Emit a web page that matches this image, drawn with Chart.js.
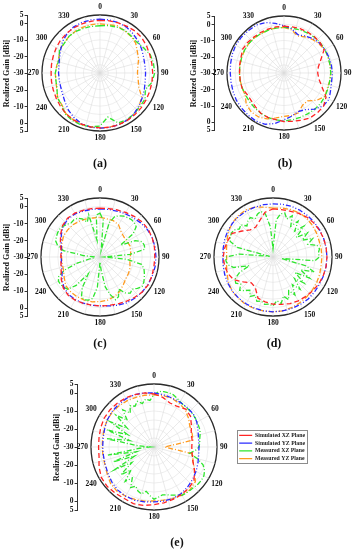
<!DOCTYPE html>
<html>
<head>
<meta charset="utf-8">
<script src="https://cdn.jsdelivr.net/npm/chart.js@4.4.0/dist/chart.umd.min.js"></script>
<style>
  html, body { margin: 0; padding: 0; background: #fff; }
  #page { position: relative; width: 360px; height: 550px; overflow: hidden; }
  .box { position: absolute; left: 0; top: 0; }
  .box canvas { display: block; }
  .cap { position: absolute; transform: translate(-50%, -50%); font: bold 12px "Liberation Serif", serif; color: #111; }
</style>
</head>
<body>
<div id="page">
  <div class="box" id="ax-a"><canvas></canvas></div>
  <div class="box" id="ax-b"><canvas></canvas></div>
  <div class="box" id="ax-c"><canvas></canvas></div>
  <div class="box" id="ax-e"><canvas></canvas></div>
  <div class="box" id="pl-a"><canvas></canvas></div>
  <div class="box" id="pl-b"><canvas></canvas></div>
  <div class="box" id="pl-c"><canvas></canvas></div>
  <div class="box" id="pl-d"><canvas></canvas></div>
  <div class="box" id="pl-e"><canvas></canvas></div>
  <div class="cap" style="left:100px;top:163px">(a)</div>
  <div class="cap" style="left:285px;top:163px">(b)</div>
  <div class="cap" style="left:100px;top:343px">(c)</div>
  <div class="cap" style="left:274px;top:343px">(d)</div>
  <div class="cap" style="left:177px;top:542px">(e)</div>
</div>
<script>
// --- DATA ---
const angleLabels = ['0','5','10','15','20','25','30','35','40','45','50','55','60','65','70','75','80','85',
  '90','95','100','105','110','115','120','125','130','135','140','145','150','155','160','165','170','175',
  '180','185','190','195','200','205','210','215','220','225','230','235','240','245','250','255','260','265',
  '270','275','280','285','290','295','300','305','310','315','320','325','330','335','340','345','350','355'];
const shownAngles = ['0','30','60','90','120','150','180','210','240','270','300','330'];
const gainTicks = [5, 0, -10, -20, -30, -20, -10, 0, 5];
const seriesNames = ['Simulated XZ Plane', 'Simulated YZ Plane', 'Measured XZ Plane', 'Measured YZ Plane'];

// gain in dBi, 36 values = every 10 deg, 72 values = every 5 deg
const simXZ_a = [1.8,2,2.2,2.5,3,3,2.5,2,1.8,1.8, 1.8,2,2.2,2.5,2.8,3,3.2,3.2,3.1,3, 2.8,2.5,2,1.2,0.5,0,-0.3,-0.5,-0.3,0, 0.5,1,1.3,1.5,1.6,1.7];
const simYZ_a = [2.5,2.5,2.3,2,1,0,-1,-2,-2.5,-2.5, -2.3,-1.5,-0.5,0.8,2,2.8,3.2,3.3,3.3,3.2, 2.5,1.2,-0.5,-2.5,-4,-4.8,-5,-5,-4.8,-4, -2.5,-0.5,1,2,2.4,2.5];
const measXZ_a = [-1.5,-1,-0.5,-0.2,-0.8,-1,0.4,2.3,2.8,3, 1.9,-0.9,1.4,1.5,2,2.6,2,-3,2,3, 3.3,3.2,2.5,0.2,-0.3,-2.4,-3,-3,-3.8,-3.8, -1.7,-2,-1,-1,-1.3,-1.4];
const measYZ_a = [-0.3,-0.5,0.4,-0.6,-1,-1.9,-4,-5.2,-6.8,-7.4, -6.6,-5.1,-0.9,0.9,2.2,3.1,3,3.2,3.3,3, 3,2.5,2,0,-0.5,-2.2,-3,-3,-3.5,-3.5, -2,-1.8,-1,-0.7,-0.5,-0.3];

const simXZ_b = [-1.3,-1.2,-1,-1,-0.9,-1,-1.6,-5.9,-8.6,-9.3, -8.2,-5.2,-0.2,1.7,1.9,1.9,0.9,0.1,-0.2,-1, -1,-1.5,-2.8,-3.7,-3.8,-2.6,-2.7,-2.7,-2.3,-1.9, -0.7,-0.8,-1.2,-1.3,-1.3,-1.3];
const simYZ_b = [-1,-2.5,-5,-3.8,-2.3,-1.5,-1,-0.8,-0.5,-0.3, -0.3,0.5,2,1.5,-1,-4,-4.8,-3,-1.3,1.5, 3.5,4.2,4,3.8,3.7,3.3,3,3,3.3,3.8, 4.2,4.2,4,4,3,1];
const measXZ_b = [-2,-2,-1.8,-1.5,-1.2,-1,-1,-1.2,-1.3,-1.3, -1.5,-1.3,-1,-0.8,-0.8,-1,-1,-0.8,-0.6,-0.8, -1,-1.5,-2,-2.5,-2.8,-2.8,-2.7,-2.6,-2.5,-2.3, -2,-1.8,-1.8,-2,-2,-2];
const measYZ_b = [-2,-3.1,-5.8,-4.4,-3,-2,-1.2,-1.2,-1.3,-1.3, -1.5,-1.8,-1,-3.9,-7.6,-7.2,-4,-3.5,-3.4,-2, 0,1.2,1.2,0.2,-2.5,-2.7,-2.7,-2.7,-2.5,-2.3, -2,-1.8,-1.8,-2,-1.8,-1.8];

const simXZ_c = [-1,-0.8,-0.3,0.5,1.5,2.5,3,3,2.8,2.5, 2.5,2.8,3,2.5,1.5,0.5,-0.3,-0.8,-1,-1, -0.8,-0.5,-0.5,-1.5,-3.5,-5.5,-6.5,-6.8,-6.5,-5, -3,-1,0,0,-0.5,-0.8];
const simYZ_c = [-1.5,-1.3,-1,-0.3,0.5,1.5,2.5,3,3.2,3.2, 3.2,3,2.8,2.5,2,1.5,0.5,-0.5,-1,-1, -0.8,-0.8,-1,-2,-4,-6,-6.8,-7,-6.8,-5.5, -3.5,-1.5,-0.5,-0.5,-1,-1.3];
const measXZ_c = [-4,-8,-26,-9,-4.5,-3, -2,-1.5,-1,-1.2,-2,-6, -16,-7,-3.5,-2.8,-3,-12,
  -27,-14,-5,-3,-2,-1, 0,0.5,-1,-3,-2,-4, -8,-4,-3,-7,-12,-22,
  -27,-12,-5,-3.5,-3,-4, -9,-18,-8,-3,-2,-1.5, -1.5,-3,-8,-16,-24,-27,
  -27,-20,-8,-4,-2,-1.5, -1,-1,-1.5,-2.5,-3.5,-3, -3.5,-5,-8,-4,-20,-5];
const measYZ_c = [-6.5,-7,-7,-8,-10.5,-11.5,-11.5,-11,-11.5,-12, -12,-11,-10.5,-10,-8.5,-6.5,-5,-4,-3.5,-3, -2.8,-2.8,-3,-3.5,-5.5,-7,-7.2,-7.2,-7,-6, -5,-5,-5,-5.5,-6,-6.5];

const simXZ_d = [-1.5,-1.5,-1,0,1,1.5,1.8,2,2,2, 2,1.8,1.5,1,0.5,0,-0.5,-1.5,-2,-3, -4,-9,-10,-7,-3,-1.5,-0.8,-0.5,-0.8,-1.5, -2,-6,-9,-9.5,-7,-3];
const simYZ_d = [1.5,1.8,2,2,2,2,2,2,2,2, 2,2,2,2.2,2.5,2.5,2.5,2.5,2.5,2.5, 2.3,2,1.8,1.5,1,0.5,0,-0.3,0,0.5, 1,1.3,1.5,1.5,1.5,1.5];
const measXZ_d = [-25,-8,-4,-3,-6,-3, -9,-4,-10,-4,-12,-5, -10,-4,-8,-3,-2,-3,
  -2.5,-5,-25,-10,-4,-12, -5,-14,-6,-12,-5,-10, -4,-8,-3,-6,-2,-4,
  -1,-2,-1.5,-3,-2,-5, -3,-6,-4,-2,-5,-3, -4,-8,-15,-6,-3,-2,
  -2,-10,-28,-8,-3,-2, -1.5,-2,-4,-3,-6,-4, -3,-5,-3,-2,-4,-12];
const measYZ_d = [-1,-0.5,0,0.5,0.5,0,-0.5,-1,-1,-1, -1,-0.5,0,0.5,1,1.5,2,2.5,2.5,2.5, 2.5,2.5,2,1.5,0.5,-1,-2,-2.5,-2,-1, 0.5,1.5,2,2.2,1.5,0];

const simXZ_e = [-0.5,-2,-4,-4,-2.5,-3.5,-6,-8,-8.5,-9, -8.5,-7,-4,-1,0,0.5,1,1.5,2,3, 3.5,3,3.5,4,3.8,2.5,1,0.8,1,1.5, 2,2,1.8,1.5,1,0.5];
const simYZ_e = [0,-0.5,-1,-1.2,-1.3,-1.5,-2.5,-4,-4.8,-5, -4.8,-4,-3,-2,-1,0,0.5,0.5,0.5,1, 1.5,1.5,1.3,0.5,-0.5,-1.2,-1.5,-1.5,-1.3,-0.8, 0,0.5,0.8,1,1,0.5];
const measXZ_e = [-1,1,1.2,1.2,1,0, -1,-1.5,-1.6,-1.7,-1.8,-2, -2.3,-2.6,-2.8,-3.5,-4.2,-4.5,
  -5,-7,-10,-5,-1,1, 2,2.2,2,1.5,1.3,1.2, 1,-0.5,-1.5,-2.5,-3,-2,
  -1,-3,-5,-3,-4,-6, -4,-9,-5,-12,-6,-15, -5,-18,-6,-20,-4,-22,
  -28,-20,-3,-16,-2,-14, -2,-12,-2.5,-9,-3,-7, -3.5,-5,-3,-5,-3,-4];
const measYZ_e = [-1,-1,-1.2,-2,-3,-5,-7,-7.5,-8,-24, -8,-7,-4,0,1,1,0.5,0,0,0.5, 1,1.5,2,1.5,0,-1,-1.2,-1.2,-1,-0.5, 0,0.3,0,-0.3,-0.6,-0.8];

// --- STYLE & LAYOUT ---
const SERIF = '"Liberation Serif", "Times New Roman", serif';
const seriesColors = ['#ff2424', '#2a2aff', '#2ee62e', '#ff9a1f'];
const seriesDash = [[5, 3], [5, 2, 1, 2, 1, 2], [5, 2, 1, 2], [5, 2, 1, 2]];

const panels = [
  { key: 'a', cx: 100, cy: 73,  R: 58, axisX: 27,  series: [simXZ_a, simYZ_a, measXZ_a, measYZ_a] },
  { key: 'b', cx: 284, cy: 73,  R: 57, axisX: 214, series: [simXZ_b, simYZ_b, measXZ_b, measYZ_b] },
  { key: 'c', cx: 100, cy: 257, R: 59, axisX: 27,  series: [simXZ_c, simYZ_c, measXZ_c, measYZ_c] },
  { key: 'd', cx: 273, cy: 257, R: 59,             series: [simXZ_d, simYZ_d, measXZ_d, measYZ_d] },
  { key: 'e', cx: 154, cy: 447, R: 63, axisX: 77, legendLeft: 237, series: [simXZ_e, simYZ_e, measXZ_e, measYZ_e] }
];

Chart.defaults.font.family = SERIF;
Chart.defaults.font.weight = 'bold';
Chart.defaults.color = '#111';

// 10-degree series sit on the 5-degree grid with gaps that the line spans
function onGrid(values) {
  const step = angleLabels.length / values.length;
  const out = [];
  values.forEach(v => { out.push(v); for (let k = 1; k < step; k++) out.push(null); });
  return out;
}

function legendFrameRect(chart) {
  const lg = chart.legend;
  if (!lg || !lg.options.display || !lg.legendHitBoxes || !lg.legendHitBoxes.length) return null;
  const hb = lg.legendHitBoxes;
  return {
    x0: Math.min(...hb.map(b => b.left)) - 2,
    y0: Math.min(...hb.map(b => b.top)) - 2,
    x1: Math.max(...hb.map(b => b.left + b.width)) + 2,
    y1: Math.max(...hb.map(b => b.top + b.height)) + 2
  };
}

const legendFrame = {
  id: 'legendFrame',
  afterDraw(chart) {
    const f = legendFrameRect(chart);
    if (!f) return;
    const ctx = chart.ctx;
    ctx.save();
    ctx.strokeStyle = '#8c8c8c';
    ctx.lineWidth = 1;
    ctx.strokeRect(Math.round(f.x0) + 0.5, Math.round(f.y0) + 0.5, Math.round(f.x1 - f.x0), Math.round(f.y1 - f.y0));
    ctx.restore();
  }
};

function radarConfig(p) {
  return {
    type: 'radar',
    data: {
      labels: angleLabels,
      datasets: seriesNames.map((name, i) => ({
        label: name,
        data: onGrid(p.series[i]),
        borderColor: seriesColors[i],
        backgroundColor: seriesColors[i],
        borderDash: seriesDash[i],
        borderWidth: 1.3,
        pointRadius: 0,
        pointHoverRadius: 0,
        fill: false,
        spanGaps: true,
        tension: 0
      }))
    },
    options: {
      responsive: false,
      animation: false,
      devicePixelRatio: 1,
      events: [],
      plugins: {
        legend: {
          display: !!p.legendLeft,
          position: 'right',
          labels: {
            usePointStyle: true, pointStyle: 'line', pointStyleWidth: 13,
            padding: 2, color: '#222',
            font: { size: 5.8, weight: 'bold' }
          }
        },
        tooltip: { enabled: false }
      },
      scales: {
        r: {
          min: -30, max: 5,
          ticks: { display: false, stepSize: 5 },
          grid: {
            circular: true,
            color: c => c.tick.value === 5 ? '#2b2b2b' : '#e2e2e2',
            lineWidth: c => c.tick.value === 5 ? 1.3 : 0.6
          },
          angleLines: { color: '#dcdcdc', lineWidth: c => c.index % 3 === 0 ? 0.6 : 0 },
          pointLabels: {
            padding: 3, color: '#111',
            font: { size: 7.5, weight: 'bold' },
            callback: lab => shownAngles.includes(lab) ? lab : ''
          }
        }
      }
    },
    plugins: [legendFrame]
  };
}

function axisConfig() {
  const half = Math.floor(gainTicks.length / 2);
  return {
    type: 'scatter',
    data: { datasets: [] },
    options: {
      responsive: false,
      animation: false,
      devicePixelRatio: 1,
      events: [],
      plugins: { legend: { display: false }, tooltip: { enabled: false } },
      scales: {
        x: { display: false },
        y: {
          min: -35, max: 35,
          afterBuildTicks: sc => {
            sc.ticks = gainTicks.map((g, i) => ({ value: (i < half ? 1 : -1) * (g + 30) }))
              .sort((u, v) => u.value - v.value);
          },
          ticks: { autoSkip: false, padding: 1, color: '#111', font: { size: 7.5, weight: 'bold' },
                   callback: v => String(Math.abs(v) - 30) },
          grid: { drawOnChartArea: false, tickLength: 2.5, color: '#333' },
          border: { color: '#333', width: 1 },
          title: { display: true, text: 'Realized Gain [dBi]', color: '#111', padding: 1,
                   font: { size: 8, weight: 'bold' } }
        }
      }
    }
  };
}

// build, measure, rebuild until the library's own scale lands on the wanted size
function build(canvas, makeConfig, W, H, resize) {
  let chart;
  for (let k = 0; k < 4; k++) {
    canvas.width = W; canvas.height = H;
    chart = new Chart(canvas, makeConfig());
    const next = resize(chart, W, H);
    if (k === 3 || (Math.abs(next.W - W) < 1 && Math.abs(next.H - H) < 1)) break;
    chart.destroy();
    W = Math.round(next.W); H = Math.round(next.H);
  }
  return chart;
}

panels.forEach(p => {
  // polar panel
  const box = document.getElementById('pl-' + p.key);
  const H0 = 2 * p.R + 30;
  const chart = build(box.querySelector('canvas'), () => radarConfig(p), H0 + 20 + (p.legendLeft ? 90 : 0), H0,
    (ch, W, H) => {
      const s = ch.scales.r;
      const dH = 2 * (p.R - s.drawingArea);
      let nW = W + dH;
      if (p.legendLeft) {
        const f = legendFrameRect(ch);
        if (f) nW += 2 * (p.legendLeft - (p.cx - s.xCenter + f.x0));
      }
      return { W: nW, H: H + dH };
    });
  const s = chart.scales.r;
  box.style.left = (p.cx - s.xCenter) + 'px';
  box.style.top = (p.cy - s.yCenter) + 'px';

  // gain axis at the left of the panel
  if (p.axisX === undefined) return;
  const abox = document.getElementById('ax-' + p.key);
  const axis = build(abox.querySelector('canvas'), axisConfig, 70, 2 * p.R + 10,
    (ch, W, H) => {
      const y = ch.scales.y;
      return { W, H: H + 2 * p.R - (y.bottom - y.top) };
    });
  const y = axis.scales.y;
  abox.style.left = (p.axisX - y.right) + 'px';
  abox.style.top = (p.cy - y.getPixelForValue(0)) + 'px';
});
</script>
</body>
</html>
